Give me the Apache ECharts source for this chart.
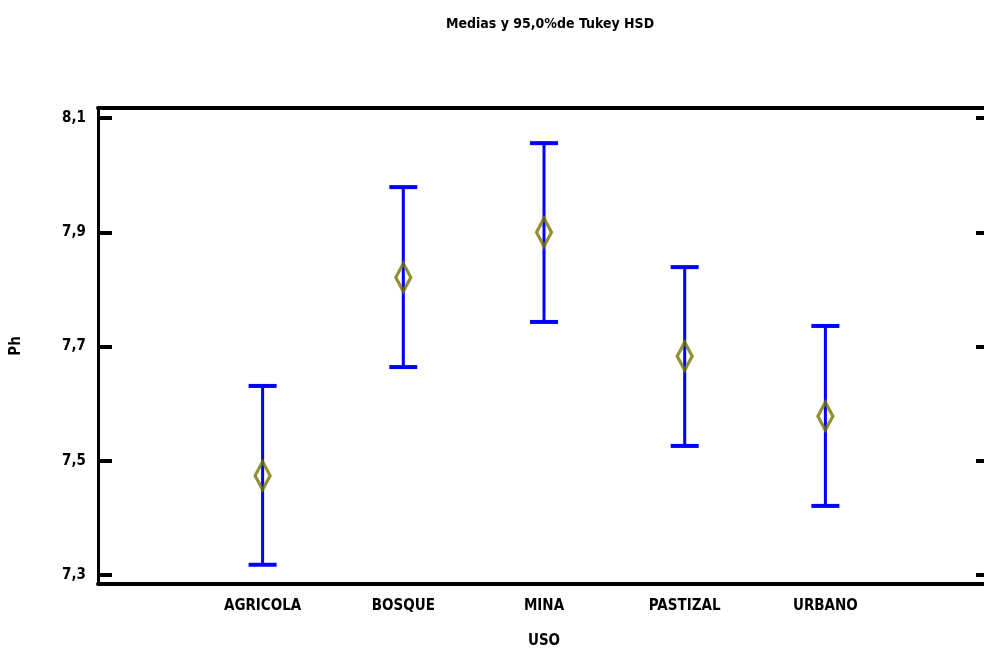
<!DOCTYPE html>
<html>
<head>
<meta charset="utf-8">
<script src="https://cdn.jsdelivr.net/npm/echarts@6/dist/echarts.min.js"></script>
<style>
  html, body { margin: 0; padding: 0; background: #fff; }
  #chart { width: 984px; height: 652px; }
</style>
</head>
<body>
<div id="chart"></div>
<script>
const categories = ['AGRICOLA', 'BOSQUE', 'MINA', 'PASTIZAL', 'URBANO']
const means = [7.474, 7.821, 7.900, 7.683, 7.578]
const lower = [7.318, 7.664, 7.743, 7.526, 7.421]
const upper = [7.631, 7.979, 8.056, 7.839, 7.736]
const yTicks = [7.3, 7.5, 7.7, 7.9, 8.1]
const xPositions = [1, 2, 3, 4, 5]

const font = "'DejaVu Sans Condensed', 'Liberation Sans Narrow', 'Liberation Sans', sans-serif"
const chart = echarts.init(document.getElementById('chart'))

const yFmt = v => v.toFixed(1).replace('.', ',')

const option = {
  backgroundColor: '#fff',
  animation: false,
  title: {
    text: 'Medias y 95,0%de Tukey HSD',
    left: 545,
    textAlign: 'center',
    top: 12,
    textStyle: { fontFamily: font, fontWeight: 'bold', fontSize: 14, color: '#000' }
  },
  grid: {
    left: 98,
    right: -6,
    top: 108,
    bottom: 68,
    outerBoundsMode: 'none'
  },
  xAxis: [
    {
      type: 'value',
      min: -0.17,
      max: 6.17,
      position: 'bottom',
      name: 'USO',
      nameLocation: 'middle',
      nameGap: 50,
      nameTextStyle: { fontFamily: font, fontWeight: 'bold', fontSize: 15, color: '#000' },
      axisLine: { onZero: false, lineStyle: { color: '#000', width: 4 } },
      axisTick: { show: false },
      splitLine: { show: false },
      axisLabel: {
        customValues: xPositions,
        margin: 15,
        fontFamily: font,
        fontWeight: 'bold',
        fontSize: 15,
        color: '#000',
        formatter: v => categories[Math.round(v) - 1] || ''
      }
    },
    {
      type: 'value',
      min: -0.17,
      max: 6.17,
      position: 'top',
      axisLine: { onZero: false, lineStyle: { color: '#000', width: 4 } },
      axisTick: { show: false },
      axisLabel: { show: false },
      splitLine: { show: false }
    }
  ],
  yAxis: [
    {
      type: 'value',
      min: 7.2843,
      max: 8.1175,
      position: 'left',
      name: 'Ph',
      nameLocation: 'middle',
      nameRotate: 90,
      nameGap: 74,
      nameTextStyle: { fontFamily: font, fontWeight: 'bold', fontSize: 15, color: '#000' },
      axisLine: { show: true, onZero: false, lineStyle: { color: '#000', width: 3 } },
      axisTick: { show: true, inside: true, length: 14, customValues: yTicks, lineStyle: { color: '#000', width: 4 } },
      axisLabel: {
        customValues: yTicks,
        margin: 12,
        fontFamily: font,
        fontWeight: 'bold',
        fontSize: 15,
        color: '#000',
        formatter: yFmt
      },
      splitLine: { show: false }
    },
    {
      type: 'value',
      min: 7.2843,
      max: 8.1175,
      position: 'right',
      axisLine: { show: true, onZero: false, lineStyle: { color: '#000', width: 3 } },
      axisTick: { show: true, inside: true, length: 14, customValues: yTicks, lineStyle: { color: '#000', width: 4 } },
      axisLabel: { show: false },
      splitLine: { show: false }
    }
  ],
  series: [
    {
      type: 'custom',
      xAxisIndex: 0,
      yAxisIndex: 0,
      data: xPositions.map((x, i) => [x, lower[i], upper[i]]),
      renderItem: (params, api) => {
        const lo = api.coord([api.value(0), api.value(1)])
        const hi = api.coord([api.value(0), api.value(2)])
        const half = 14
        const style = { stroke: '#0000ff', lineWidth: 3 }
        return {
          type: 'group',
          children: [
            { type: 'line', shape: { x1: lo[0], y1: lo[1], x2: hi[0], y2: hi[1] }, style },
            { type: 'line', shape: { x1: hi[0] - half, y1: hi[1], x2: hi[0] + half, y2: hi[1] }, style: { stroke: '#0000ff', lineWidth: 4 } },
            { type: 'line', shape: { x1: lo[0] - half, y1: lo[1], x2: lo[0] + half, y2: lo[1] }, style: { stroke: '#0000ff', lineWidth: 4 } }
          ]
        }
      }
    },
    {
      type: 'scatter',
      xAxisIndex: 0,
      yAxisIndex: 0,
      symbol: 'diamond',
      symbolSize: [15, 28],
      data: xPositions.map((x, i) => [x, means[i]]),
      itemStyle: { color: 'rgba(0,0,0,0)', borderColor: '#767600', borderWidth: 3.5 },
      z: 5
    }
  ]
}

chart.setOption(option)
</script>
</body>
</html>
